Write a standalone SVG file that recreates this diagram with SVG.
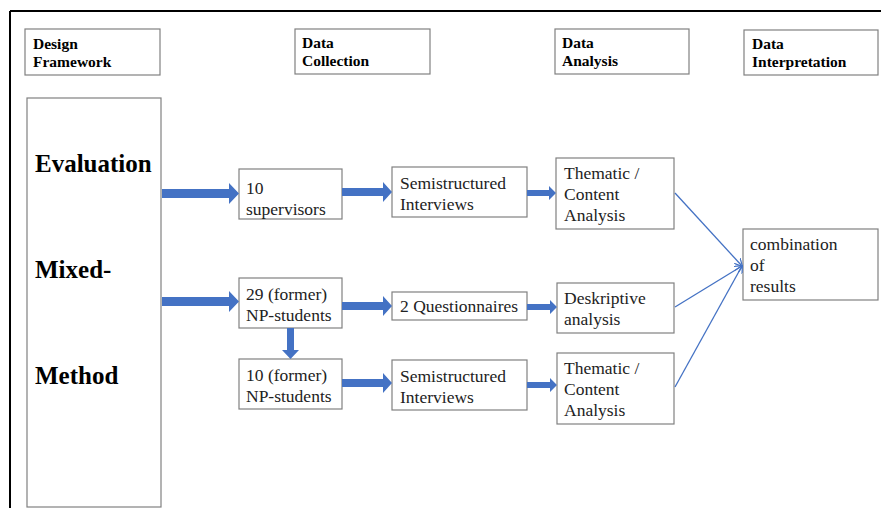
<svg xmlns="http://www.w3.org/2000/svg" width="881" height="508" viewBox="0 0 881 508">
<defs>
<style>
.box{fill:#fff;stroke:#808080;stroke-width:1.2}
.hd{font-family:"Liberation Serif","Times New Roman",serif;font-weight:bold;font-size:15.5px;fill:#000}
.tx{font-family:"Liberation Serif","Times New Roman",serif;font-size:17.5px;fill:#222}
.big{font-family:"Liberation Serif","Times New Roman",serif;font-weight:bold;font-size:25px;fill:#000}
.thick{fill:#4472C4}
.thin{stroke:#4472C4;stroke-width:1.3;fill:none}
</style>
<marker id="ah" viewBox="0 0 10 10" refX="9" refY="5" markerWidth="8" markerHeight="8" orient="auto" markerUnits="userSpaceOnUse">
<path d="M0,0 L10,5 L0,10" fill="none" stroke="#4472C4" stroke-width="1.5"/>
</marker>
</defs>
<rect width="881" height="508" fill="#fff"/>
<g id="frame">
<line x1="10" y1="11" x2="881" y2="11" stroke="#000" stroke-width="2"/>
<line x1="10" y1="11" x2="10" y2="508" stroke="#000" stroke-width="2"/>
</g>
<g id="hdr-design"><rect class="box" x="25" y="29" width="135" height="46"/><text class="hd" x="33" y="49">Design</text><text class="hd" x="33" y="67">Framework</text></g>
<g id="hdr-collection"><rect class="box" x="295" y="29" width="135" height="45"/><text class="hd" x="302" y="48">Data</text><text class="hd" x="302" y="66">Collection</text></g>
<g id="hdr-analysis"><rect class="box" x="555" y="29" width="134" height="45"/><text class="hd" x="562" y="48">Data</text><text class="hd" x="562" y="66">Analysis</text></g>
<g id="hdr-interp"><rect class="box" x="744" y="30" width="134" height="45"/><text class="hd" x="752" y="49">Data</text><text class="hd" x="752" y="67">Interpretation</text></g>
<g id="framework"><rect class="box" x="27" y="98" width="134" height="409"/><text class="big" x="35" y="172">Evaluation</text><text class="big" x="35" y="278">Mixed-</text><text class="big" x="35" y="384">Method</text></g>
<g id="supervisors"><rect class="box" x="239" y="169" width="103" height="50"/><text class="tx" x="246" y="194">10</text><text class="tx" x="246" y="215">supervisors</text></g>
<g id="interviews1"><rect class="box" x="392" y="167" width="135" height="50"/><text class="tx" x="400" y="189">Semistructured</text><text class="tx" x="400" y="210">Interviews</text></g>
<g id="thematic1"><rect class="box" x="556" y="158" width="118" height="71"/><text class="tx" x="564" y="179">Thematic /</text><text class="tx" x="564" y="200">Content</text><text class="tx" x="564" y="221">Analysis</text></g>
<g id="combination"><rect class="box" x="743" y="229" width="135" height="71"/><text class="tx" x="750" y="250">combination</text><text class="tx" x="750" y="271">of</text><text class="tx" x="750" y="292">results</text></g>
<g id="np29"><rect class="box" x="239" y="278" width="103" height="50"/><text class="tx" x="246" y="300">29 (former)</text><text class="tx" x="246" y="321">NP-students</text></g>
<g id="questionnaires"><rect class="box" x="392" y="292" width="135" height="28"/><text class="tx" x="400" y="312">2 Questionnaires</text></g>
<g id="deskriptive"><rect class="box" x="557" y="283" width="117" height="50"/><text class="tx" x="564" y="304">Deskriptive</text><text class="tx" x="564" y="325">analysis</text></g>
<g id="np10"><rect class="box" x="239" y="359" width="103" height="50"/><text class="tx" x="246" y="381">10 (former)</text><text class="tx" x="246" y="402">NP-students</text></g>
<g id="interviews2"><rect class="box" x="392" y="360" width="135" height="50"/><text class="tx" x="400" y="382">Semistructured</text><text class="tx" x="400" y="403">Interviews</text></g>
<g id="thematic2"><rect class="box" x="557" y="353" width="117" height="71"/><text class="tx" x="564" y="374">Thematic /</text><text class="tx" x="564" y="395">Content</text><text class="tx" x="564" y="416">Analysis</text></g>
<g id="connectors">
<path class="thick" d="M162,189 L229,189 L229,183 L239,193.5 L229,204 L229,198 L162,198 Z"/>
<path class="thick" d="M342,188 L383,188 L383,182 L392,192 L383,202 L383,196 L342,196 Z"/>
<path class="thick" d="M527,190 L549,190 L549,186 L556,193 L549,200 L549,196 L527,196 Z"/>
<path class="thick" d="M162,297 L229,297 L229,291 L239,301.5 L229,312 L229,306 L162,306 Z"/>
<path class="thick" d="M342,302 L383,302 L383,296 L392,306 L383,316 L383,310 L342,310 Z"/>
<path class="thick" d="M527,304 L550,304 L550,300 L557,307 L550,314 L550,310 L527,310 Z"/>
<path class="thick" d="M287,328 L294,328 L294,350 L299,350 L290.5,359 L282,350 L287,350 Z"/>
<path class="thick" d="M342,379 L383,379 L383,373 L392,383 L383,393 L383,387 L342,387 Z"/>
<path class="thick" d="M527,382 L550,382 L550,378 L557,385 L550,392 L550,388 L527,388 Z"/>
<line class="thin" x1="675" y1="193" x2="742" y2="266" marker-end="url(#ah)"/>
<line class="thin" x1="675" y1="307" x2="742" y2="266" marker-end="url(#ah)"/>
<line class="thin" x1="675" y1="387" x2="742" y2="266" marker-end="url(#ah)"/>
</g>
</svg>
